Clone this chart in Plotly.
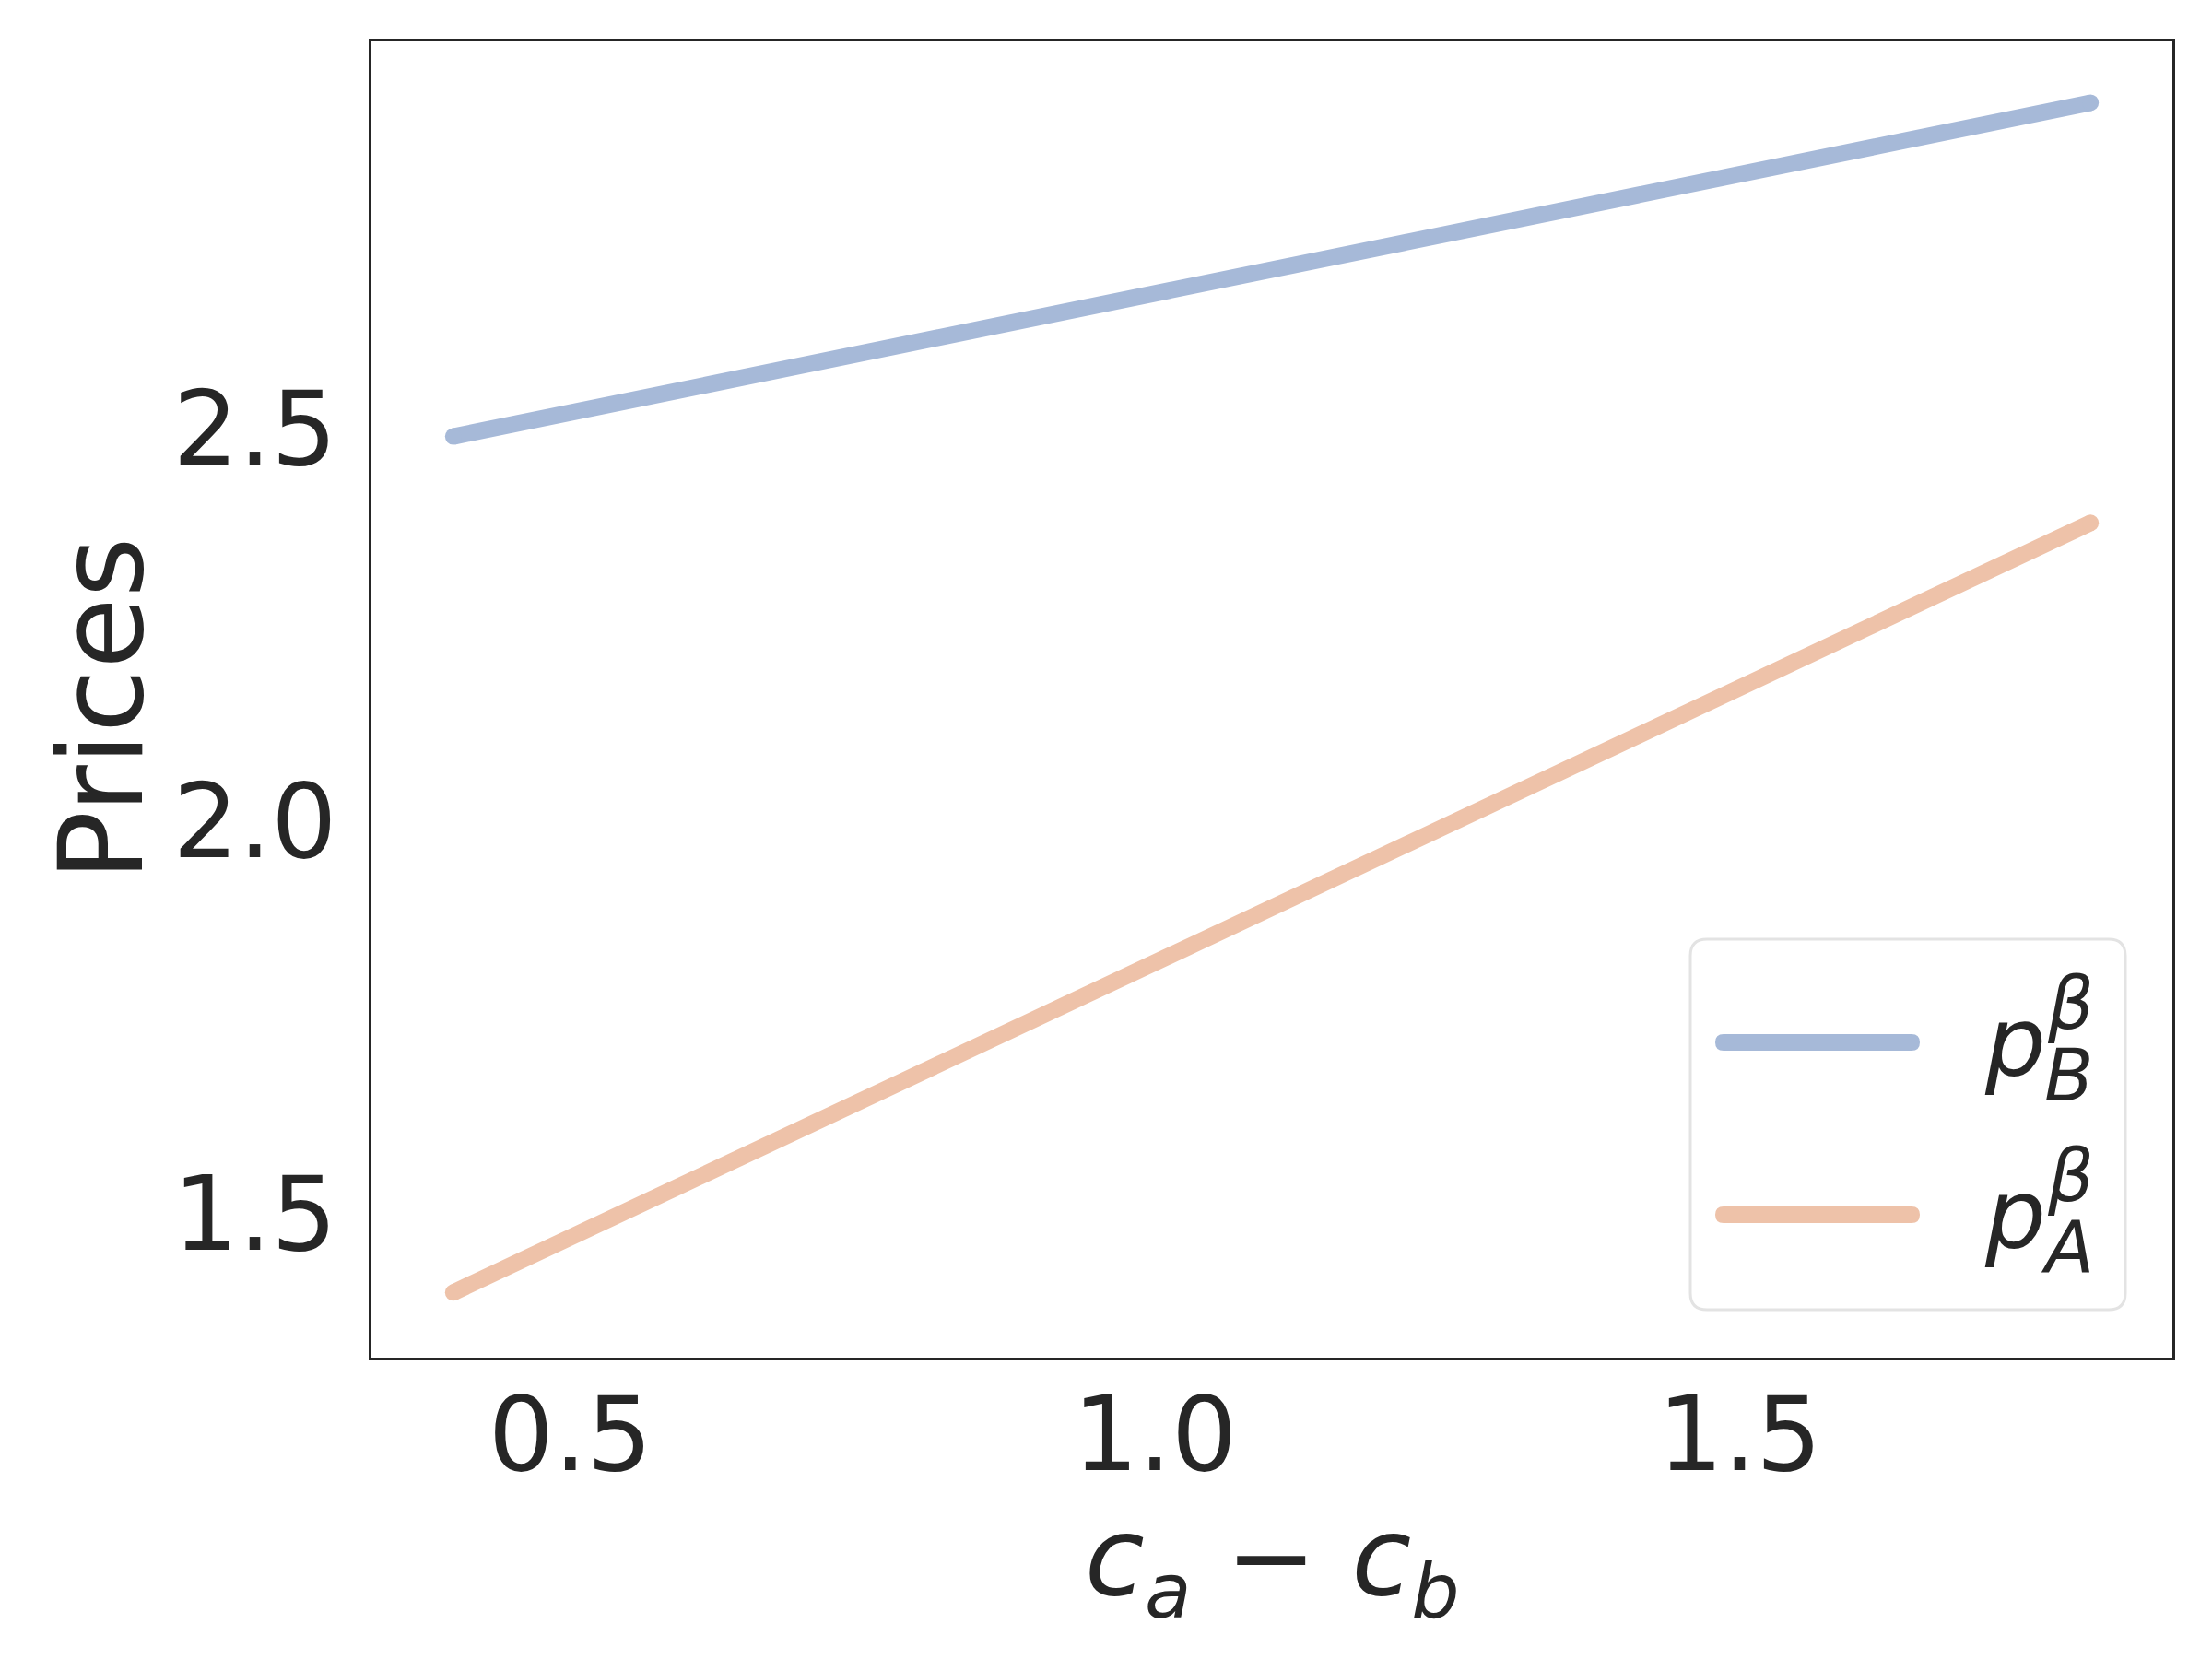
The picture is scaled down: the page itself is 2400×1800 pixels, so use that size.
import plotly.graph_objects as go

# cost gap on the x axis, prices
cost_gap = [0.4, 1.8]
price_b = [2.49, 2.915]
price_a = [1.40, 2.38]

series_names = ['p_B', 'p_A']
series_colors = ['#a6b9d8', '#eec2a9']

TEXT = '#262626'
FONT = 'DejaVu Sans'
LW = 18

fig = go.Figure()

for name, ys, color in zip(series_names, [price_b, price_a], series_colors):
    fig.add_trace(go.Scatter(
        x=cost_gap, y=ys, name=name, mode='lines+markers',
        line=dict(color=color, width=LW),
        marker=dict(color=color, size=LW, line=dict(width=0)),
        showlegend=False,
    ))

axis_style = dict(
    showgrid=False, zeroline=False, showline=True, mirror=True,
    linecolor=TEXT, linewidth=3, ticks='',
    tickfont=dict(family=FONT, size=112, color=TEXT),
)

fig.update_xaxes(range=[0.33, 1.87], tickvals=[0.5, 1.0, 1.5],
                 ticktext=['0.5', '1.0', '1.5'], ticklabelstandoff=-15, **axis_style)
fig.update_yaxes(range=[1.317, 2.993], tickvals=[1.5, 2.0, 2.5],
                 ticktext=['1.5', '2.0', '2.5'], ticklabelstandoff=12, **axis_style)

# hand-made legend box (pixel offsets from the lower right plot corner)
def rounded_rect(x0, y0, x1, y1, r):
    return (f'M {x0 + r},{y0} L {x1 - r},{y0} Q {x1},{y0} {x1},{y0 + r} '
            f'L {x1},{y1 - r} Q {x1},{y1} {x1 - r},{y1} '
            f'L {x0 + r},{y1} Q {x0},{y1} {x0},{y1 - r} '
            f'L {x0},{y0 + r} Q {x0},{y0} {x0 + r},{y0} Z')

shapes = [dict(
    type='path', xref='paper', yref='paper', xsizemode='pixel', ysizemode='pixel',
    xanchor=1, yanchor=0, path=rounded_rect(-523, 52, -51, 454, 18),
    line=dict(color='#e3e3e3', width=3), fillcolor='white', layer='above',
)]
annotations = []
rows = [(342, 'B'), (155, 'A')]
for (ypix, sub), color in zip(rows, series_colors):
    shapes.append(dict(
        type='path', xref='paper', yref='paper', xsizemode='pixel', ysizemode='pixel',
        xanchor=1, yanchor=0,
        path=rounded_rect(-496, ypix - LW / 2, -274, ypix + LW / 2, LW / 2),
        line=dict(width=0), fillcolor=color, layer='above',
    ))
    label = dict(xref='paper', yref='paper', x=1, y=0, showarrow=False,
                 xanchor='right', yanchor='bottom')
    annotations.append(dict(label, text='<i>p</i>', xshift=-135, yshift=ypix - 63,
                            font=dict(family=FONT, size=104, color=TEXT)))
    annotations.append(dict(label, text='<i>β</i>', xshift=-83, yshift=ypix - 5,
                            font=dict(family=FONT, size=78, color=TEXT)))
    annotations.append(dict(label, text=f'<i>{sub}</i>', xshift=-83, yshift=ypix - 83,
                            font=dict(family=FONT, size=78, color=TEXT)))

annotations.append(dict(
    text='Prices', xref='paper', yref='paper', x=0, y=0.4925,
    xanchor='center', yanchor='middle',
    xshift=-292, textangle=-90, showarrow=False,
    font=dict(family=FONT, size=126, color=TEXT),
))
annotations.append(dict(
    text='<i>c</i><sub><i>a</i></sub> − <i>c</i><sub><i>b</i></sub>',
    xref='paper', yref='paper', x=0.5, y=0, xanchor='center', yanchor='middle',
    yshift=-224, showarrow=False,
    font=dict(family=FONT, size=118, color=TEXT),
))

fig.update_layout(
    width=2400, height=1800,
    margin=dict(l=395, r=51, t=37, b=335),
    plot_bgcolor='white', paper_bgcolor='white',
    shapes=shapes, annotations=annotations,
    showlegend=False,
)

fig.write_html('out.html')
